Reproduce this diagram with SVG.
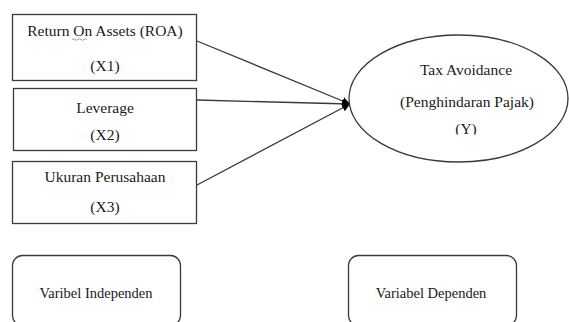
<svg xmlns="http://www.w3.org/2000/svg" width="569" height="322" viewBox="0 0 569 322">
<style>
.box{fill:#fff;stroke:#3a3a3a;stroke-width:1.3}
text{font-family:'Liberation Serif','Times New Roman','DejaVu Serif',serif;font-size:15.5px;fill:#1a1a1a;text-anchor:middle}
.s{font-size:14.5px}
.c{stroke:#3a3a3a;stroke-width:1.3;fill:none}
</style>
<defs>
<marker id="ah" viewBox="0 0 10 10" refX="10" refY="5" markerWidth="8" markerHeight="8" markerUnits="userSpaceOnUse" orient="auto">
<path d="M0,0 L10,5 L0,10 z" fill="#000"/>
</marker>
<clipPath id="yclip"><rect x="0" y="0" width="569" height="134.5"/></clipPath>
</defs>
<rect width="569" height="322" fill="#fff"/>
<g id="connectors">
<line class="c" x1="197" y1="41" x2="350" y2="104" marker-end="url(#ah)"/>
<line class="c" x1="197" y1="100" x2="350" y2="104" marker-end="url(#ah)"/>
<line class="c" x1="197" y1="185" x2="350" y2="104" marker-end="url(#ah)"/>
</g>
<g id="x1">
<rect class="box" x="12.5" y="14.5" width="184" height="66"/>
<text x="105" y="35.5">Return On Assets (ROA)</text>
<path d="M72,39.5 q1.5,-1.5 3,0 t3,0 t3,0 t3,0 t3,0" fill="none" stroke="#4a6fc0" stroke-width="0.7"/>
<text x="105" y="71">(X1)</text>
</g>
<g id="x2">
<rect class="box" x="13.5" y="88.5" width="183" height="62"/>
<text x="105" y="113">Leverage</text>
<text x="105" y="140">(X2)</text>
</g>
<g id="x3">
<rect class="box" x="12.5" y="161.5" width="184" height="62"/>
<text x="105" y="182">Ukuran Perusahaan</text>
<text x="105" y="212">(X3)</text>
</g>
<g id="y">
<ellipse class="box" cx="458.5" cy="98.5" rx="109.5" ry="63.5"/>
<text x="466" y="75">Tax Avoidance</text>
<text x="467" y="107">(Penghindaran Pajak)</text>
<text x="466" y="134" clip-path="url(#yclip)">(Y)</text>
</g>
<g id="legend-independen">
<rect class="box" x="12.5" y="255.5" width="168" height="70" rx="10"/>
<text class="s" x="96" y="298">Varibel Independen</text>
</g>
<g id="legend-dependen">
<rect class="box" x="348.5" y="255.5" width="168" height="70" rx="10"/>
<text class="s" x="431" y="298">Variabel Dependen</text>
</g>
</svg>
